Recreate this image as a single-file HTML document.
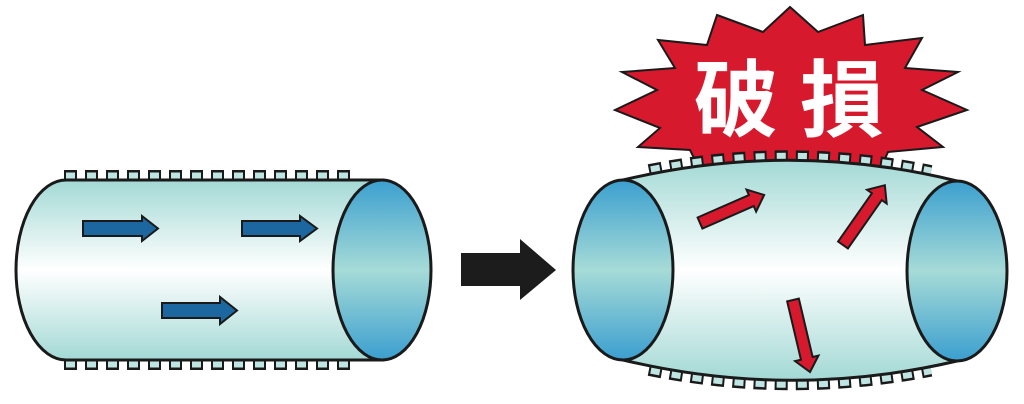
<!DOCTYPE html>
<html><head><meta charset="utf-8"><style>html,body{margin:0;padding:0;background:#fff}svg{display:block}</style></head>
<body>
<svg width="1024" height="404" viewBox="0 0 1024 404" xmlns="http://www.w3.org/2000/svg">
<defs>
<linearGradient id="bodyL" x1="0" y1="180" x2="0" y2="360" gradientUnits="userSpaceOnUse">
<stop offset="0" stop-color="#a3d9d5"/><stop offset="0.5" stop-color="#ffffff"/><stop offset="1" stop-color="#a3d9d5"/></linearGradient>
<linearGradient id="bodyR" x1="0" y1="160" x2="0" y2="380" gradientUnits="userSpaceOnUse">
<stop offset="0" stop-color="#a3d9d5"/><stop offset="0.5" stop-color="#ffffff"/><stop offset="1" stop-color="#a3d9d5"/></linearGradient>
<linearGradient id="end" x1="0" y1="0" x2="0" y2="1">
<stop offset="0" stop-color="#3b9fcf"/><stop offset="0.5" stop-color="#a6dbd7"/><stop offset="1" stop-color="#3b9fcf"/></linearGradient>
</defs>

<!-- LEFT PIPE -->
<g>
<path d="M64,180 H356 M64,360 H356" stroke="#1a1a1a" stroke-width="20" stroke-dasharray="13 8" fill="none"/>
<path d="M64,180 H356 M64,360 H356" stroke="#bfe5e2" stroke-width="15" stroke-dasharray="9 12" stroke-dashoffset="-2" fill="none"/>
<path d="M66,180 L383,180 L383,360 L66,360 A50,90 0 0 1 66,180 Z" fill="url(#bodyL)" stroke="#1a1a1a" stroke-width="3"/>
<ellipse cx="382" cy="270" rx="49" ry="90" fill="url(#end)" stroke="#1a1a1a" stroke-width="3"/>
<g fill="#1d67a0" stroke="#1a1a1a" stroke-width="2">
<polygon points="83,221 142,221 142,216 158,228.5 142,241 142,236 83,236"/>
<polygon points="242,221 300,221 300,216 317,228.5 300,241 300,236 242,236"/>
<polygon points="162,303 220,303 220,297 237,310.5 220,324 220,318 162,318"/>
</g>
</g>

<!-- BLACK ARROW -->
<polygon points="461,253 520,253 520,239 556,270 520,300 520,286 461,286" fill="#1c1c1c"/>

<!-- BURST -->
<polygon fill="#d7192e" stroke="#1a1a1a" stroke-width="2" stroke-linejoin="miter"
points="717,15 763,32 790,7 818,32 863,15 865,45 922,38 905,68 958,72 922,90 967,110 917,127 943,147 888,152 880,170 700,170 690,150 638,147 660,128 615,110 657,90 622,72 675,68 658,40 707,45"/>
<text x="694" y="130" font-family="'Noto Sans CJK JP','Noto Sans CJK SC',sans-serif" font-weight="bold" font-size="84" fill="#fff">破</text>
<text x="800" y="130" font-family="'Noto Sans CJK JP','Noto Sans CJK SC',sans-serif" font-weight="bold" font-size="84" fill="#fff">損</text>

<!-- RIGHT PIPE -->
<g>
<path d="M649.7,174.1 Q790,146 930.3,175 M649.7,365.9 Q790,394.2 930.3,366.7" stroke="#1a1a1a" stroke-width="20" stroke-dasharray="13 8" fill="none"/>
<path d="M649.7,174.1 Q790,146 930.3,175 M649.7,365.9 Q790,394.2 930.3,366.7" stroke="#bfe5e2" stroke-width="15" stroke-dasharray="9 12" stroke-dashoffset="-2" fill="none"/>
<path d="M623,180 Q790,140 957,181 L957,361 Q790,400 623,360 Z" fill="url(#bodyR)" stroke="#1a1a1a" stroke-width="3"/>
<ellipse cx="623" cy="270" rx="50" ry="90" fill="url(#end)" stroke="#1a1a1a" stroke-width="3"/>
<ellipse cx="957" cy="271" rx="50" ry="90" fill="url(#end)" stroke="#1a1a1a" stroke-width="3"/>
<g fill="#d7192e" stroke="#1a1a1a" stroke-width="2">
<polygon transform="translate(700,223) rotate(-23.6)" points="0,-6 56,-6 56,-12 70,0 56,12 56,6 0,6"/>
<polygon transform="translate(843,245) rotate(-55)" points="0,-6 59,-6 59,-12 73,0 59,12 59,6 0,6"/>
<polygon transform="translate(793,300) rotate(76.7)" points="0,-6 60,-6 60,-12 74,0 60,12 60,6 0,6"/>
</g>
</g>
</svg>
</body></html>
